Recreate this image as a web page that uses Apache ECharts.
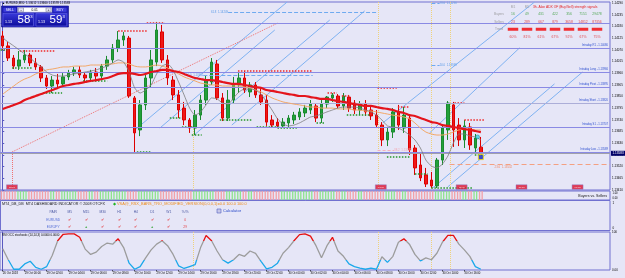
<!DOCTYPE html>
<html>
<head>
<meta charset="utf-8">
<script src="https://cdn.jsdelivr.net/npm/echarts/dist/echarts.min.js"></script>
<style>
html,body{margin:0;padding:0;background:#E6E6F7;overflow:hidden;}
#c{width:625px;height:278px;}
</style>
</head>
<body>
<div id="c"></div>
<script>
// ---------------- DATA ----------------
const symbolName = 'EURUSD,M30';
const barCount = 111;
const timeLabels = ['26 Oct 2018','29 Oct 00:00','29 Oct 02:00','29 Oct 04:00','29 Oct 06:00','29 Oct 08:00','29 Oct 10:00','29 Oct 12:00','29 Oct 14:00','29 Oct 16:00','29 Oct 18:00','29 Oct 20:00','29 Oct 22:00','30 Oct 00:00','30 Oct 02:00','30 Oct 04:00','30 Oct 06:00','30 Oct 08:00','30 Oct 10:00','30 Oct 12:00','30 Oct 14:00','30 Oct 16:00'];
// [open, close, low, high]
const candles = [
[1.14136,1.14089,1.14070,1.14159],[1.14089,1.14032,1.14018,1.14107],[1.14032,1.13994,1.13980,1.14046],[1.13994,1.14023,1.13976,1.14065],
[1.14023,1.14046,1.14009,1.14070],[1.14046,1.14009,1.13994,1.14056],[1.14009,1.13990,1.13976,1.14032],[1.13990,1.13938,1.13919,1.13999],
[1.13938,1.13900,1.13886,1.13952],[1.13900,1.13928,1.13867,1.13947],[1.13928,1.13910,1.13891,1.13957],[1.13910,1.13943,1.13895,1.13961],
[1.13943,1.13961,1.13928,1.13976],[1.13961,1.13976,1.13947,1.13990],[1.13976,1.13952,1.13938,1.13994],[1.13952,1.13938,1.13919,1.13966],
[1.13938,1.13966,1.13924,1.13976],[1.13966,1.13947,1.13924,1.13985],[1.13947,1.13994,1.13933,1.14004],[1.13994,1.14023,1.13976,1.14042],
[1.14023,1.14079,1.14009,1.14098],[1.14079,1.14117,1.14060,1.14159],[1.14117,1.14136,1.14089,1.14155],[1.14126,1.13853,1.13844,1.14136],
[1.13844,1.13679,1.13589,1.13853],[1.13693,1.13811,1.13664,1.13834],[1.13811,1.13938,1.13787,1.13966],[1.13938,1.14023,1.13891,1.14070],
[1.14013,1.14164,1.13994,1.14202],[1.14155,1.14023,1.14009,1.14188],[1.14023,1.13938,1.13905,1.14046],[1.13928,1.13858,1.13834,1.13947],
[1.13858,1.13787,1.13749,1.13881],[1.13796,1.13740,1.13716,1.13825],[1.13740,1.13702,1.13679,1.13749],[1.13702,1.13763,1.13669,1.13787],
[1.13763,1.13834,1.13740,1.13858],[1.13834,1.13928,1.13811,1.13952],[1.13919,1.14013,1.13905,1.14032],[1.14004,1.13844,1.13834,1.14023],
[1.13844,1.13749,1.13735,1.13867],[1.13749,1.13834,1.13735,1.13881],[1.13834,1.13905,1.13820,1.13943],[1.13905,1.13938,1.13867,1.13961],
[1.13938,1.13881,1.13867,1.13971],[1.13872,1.13905,1.13848,1.13919],[1.13905,1.13858,1.13844,1.13919],[1.13858,1.13825,1.13811,1.13891],
[1.13834,1.13730,1.13712,1.13858],[1.13740,1.13716,1.13702,1.13763],[1.13730,1.13712,1.13702,1.13749],[1.13712,1.13730,1.13702,1.13749],
[1.13726,1.13749,1.13707,1.13763],[1.13740,1.13763,1.13721,1.13778],[1.13754,1.13778,1.13740,1.13796],[1.13773,1.13796,1.13754,1.13811],
[1.13787,1.13815,1.13768,1.13834],[1.13806,1.13749,1.13730,1.13820],[1.13749,1.13815,1.13726,1.13834],[1.13815,1.13848,1.13796,1.13853],
[1.13844,1.13858,1.13825,1.13867],[1.13853,1.13806,1.13796,1.13862],[1.13806,1.13853,1.13787,1.13867],[1.13848,1.13796,1.13778,1.13858],
[1.13820,1.13787,1.13768,1.13834],[1.13787,1.13815,1.13763,1.13829],[1.13815,1.13778,1.13759,1.13834],[1.13787,1.13759,1.13740,1.13801],
[1.13763,1.13716,1.13702,1.13787],[1.13716,1.13646,1.13617,1.13730],[1.13646,1.13683,1.13617,1.13707],[1.13683,1.13778,1.13655,1.13796],
[1.13778,1.13716,1.13693,1.13811],[1.13702,1.13763,1.13679,1.13801],[1.13749,1.13599,1.13575,1.13763],[1.13608,1.13514,1.13481,1.13622],
[1.13528,1.13467,1.13452,1.13580],[1.13481,1.13438,1.13424,1.13514],[1.13457,1.13429,1.13419,1.13495],[1.13429,1.13551,1.13419,1.13561],
[1.13551,1.13702,1.13528,1.13716],[1.13693,1.13820,1.13646,1.13829],[1.13811,1.13693,1.13613,1.13825],[1.13716,1.13646,1.13617,1.13749],
[1.13646,1.13712,1.13608,1.13740],[1.13707,1.13622,1.13599,1.13726],[1.13608,1.13655,1.13584,1.13674],[1.13612,1.13583,1.13578,1.13660]
];
const maSlow = [1.13792,1.13801,1.13811,1.13820,1.13834,1.13844,1.13853,1.13862,1.13872,1.13881,
1.13891,1.13900,1.13905,1.13910,1.13914,1.13919,1.13924,1.13928,1.13933,1.13938,
1.13947,1.13957,1.13961,1.13961,1.13957,1.13952,1.13957,1.13966,1.13971,1.13976,
1.13976,1.13971,1.13966,1.13957,1.13947,1.13938,1.13933,1.13928,1.13928,1.13924,
1.13919,1.13914,1.13910,1.13910,1.13905,1.13900,1.13895,1.13891,1.13881,1.13877,
1.13872,1.13867,1.13862,1.13858,1.13853,1.13853,1.13848,1.13844,1.13839,1.13839,
1.13834,1.13829,1.13825,1.13820,1.13815,1.13811,1.13806,1.13806,1.13801,1.13796,
1.13792,1.13787,1.13778,1.13773,1.13763,1.13759,1.13749,1.13740,1.13730,1.13726,
1.13716,1.13712,1.13707,1.13702,1.13697,1.13693,1.13688,1.13683];
const maMid = [1.13862,1.13881,1.13900,1.13919,1.13933,1.13943,1.13957,1.13966,1.13976,1.13980,
1.13985,1.13990,1.13990,1.13994,1.13994,1.13994,1.13999,1.13999,1.13999,1.14004,
1.14004,1.14009,1.14009,1.14004,1.13994,1.13990,1.13990,1.13994,1.13999,1.13994,
1.13985,1.13971,1.13957,1.13943,1.13933,1.13924,1.13914,1.13910,1.13905,1.13905,
1.13900,1.13900,1.13900,1.13900,1.13895,1.13891,1.13881,1.13872,1.13858,1.13844,
1.13834,1.13825,1.13820,1.13815,1.13811,1.13806,1.13801,1.13801,1.13796,1.13796,
1.13796,1.13792,1.13792,1.13792,1.13787,1.13787,1.13782,1.13782,1.13778,1.13773,
1.13768,1.13763,1.13759,1.13754,1.13745,1.13726,1.13702,1.13683,1.13674,1.13669,
1.13669,1.13674,1.13683,1.13693,1.13697,1.13697,1.13693,1.13693];
const maFast = [1.14126,1.14107,1.14089,1.14070,1.14051,1.14032,1.14009,1.13990,1.13966,1.13952,
1.13947,1.13947,1.13952,1.13957,1.13961,1.13966,1.13971,1.13976,1.13985,1.13994,
1.14009,1.14023,1.14013,1.13966,1.13891,1.13867,1.13881,1.13905,1.13957,1.13994,
1.14004,1.13976,1.13919,1.13858,1.13796,1.13763,1.13778,1.13811,1.13844,1.13839,
1.13820,1.13815,1.13844,1.13872,1.13886,1.13886,1.13881,1.13862,1.13825,1.13787,
1.13745,1.13721,1.13712,1.13716,1.13726,1.13740,1.13754,1.13759,1.13768,1.13778,
1.13787,1.13796,1.13801,1.13801,1.13801,1.13796,1.13787,1.13778,1.13763,1.13740,
1.13712,1.13707,1.13702,1.13688,1.13669,1.13646,1.13608,1.13551,1.13523,1.13514,
1.13532,1.13570,1.13631,1.13674,1.13674,1.13664,1.13660,1.13646];
const stochK = [56,27,2,2,16,23,7,2,9,38, 77,94,95,95,86,55,41,47,62,71, 68,82,59,18,2,9,32,53,68,77,
64,41,11,4,9,14,59,91,77,50, 27,18,27,41,36,50,44,23,3,7, 18,44,59,77,93,95,89,64,32,64,
86,50,36,16,9,5,2,5,2,35, 20,36,73,82,68,41,24,32,27,44, 73,91,91,68,53,36,9,2];

const levelPrices = [1.14197, 1.14080, 1.13966, 1.13895, 1.13820, 1.13707, 1.13589];
const levelNames  = ['', 'Intraday R1', 'Intraday Long', 'Intraday Pivot', 'Intraday Short', 'Intraday S1', 'Intraday Low'];
// [barFrom, priceFrom, barTo, priceTo]
const pitchforkLines = [
[24.05,1.13693,51.75,1.14296],[28.59,1.13702,49.5,1.14164],[34.59,1.13664,59.5,1.14211],[41.68,1.13716,65.86,1.14254],
[69.14,1.13726,96.77,1.14296],[77.68,1.13679,94.05,1.14080],[78.23,1.13419,100.4,1.13910],[80.95,1.13424,105.5,1.13966]
];
const swingLines = [[1.68,1.13589,50.05,1.14197],[1.68,1.13589,1.68,1.13424]];
// [barFrom, barTo, price, text]
const fibBlue = [[41,68.2,1.14249,'61.8  1.14249'],[36.5,56.4,1.13952,'50.0  1.13952'],[78,79.5,1.14290,'78.6  1.14290'],[78,79.5,1.13999,'50.0  1.13999']];
const fibSalmon = [[81.3,110.5,1.13532,'23.6  1.13532']];
const fibPink = [[68.2,71.2,1.13599,'38.2  1.13599']];
// [barFrom, barTo, price]
const resistanceSegs = [[3.1,9.5,1.14065],[21,26.2,1.14159],[26.2,29.5,1.14197],[42.8,56.4,1.13971],[59.1,60.8,1.13867],[61.7,63.1,1.13853],[68.2,71.7,1.13891],[71.9,74,1.13801],[82.2,84,1.13820],[84,87.7,1.13740]];
const supportSegs = [[-0.4,0.8,1.14070],[1.7,5.5,1.13985],[7.3,10.8,1.13867],[14.6,19,1.13924],[24.4,27.1,1.13589],[30.4,32.6,1.13749],[32.6,34.6,1.13707],[34.4,36.2,1.13669],[39.5,45.5,1.13740],[46.2,50.4,1.13707],[50,53.5,1.13702],[57.1,58.6,1.13726],[62.6,66.8,1.13763],[69.9,74,1.13565],[75,77.3,1.13485],[78,85.5,1.13419],[85.9,87.3,1.13575]];
const sessionBars = [34.6, 68.4, 77.9, 81.5];
const sessionFrom = [1.13707, 1.14296, 1.14296, 1.14296];
const newsBars = [1.68, 68.8, 83.5, 94.4, 104.6];
const newsTimes = ['23:00','08:15','15:45','20:15','01:15'];
const newsLevel = 1.13424;
const signalDot = [86.4, 1.13660];
const lastBarMark = [87, 1.13565];
const spreadPoints = 10;

const dashCols = ['PAIR','M5','M15','M30','H1','H4','D1','W1','%/%'];
const dashPairs = ['EURUSD','EURJPY'];
const dashSignals = [[-1,-1,-1,-1,-1,-1,-1],[-1,1,-1,-1,-1,1,-1]];
const dashScore = [0, 29];

const bsRowNames = ['', 'Buyers', 'Sellers', 'Trend', ''];
const bsFrames = ['M1','M5'];
const bsBuyers = [16,49,431,422,356,7151,29478];
const bsSellers = [23,289,667,879,3658,14812,87356];
const bsStrength = [60,81,61,67,92,67,75];

// ---------------- CHART ----------------
const FONT = 'Liberation Sans';
const cats = Array.from({length: barCount}, (_, i) => String(i));
const yMin = 1.13410, yMax = 1.14296;
const last = candles[candles.length - 1];
const bid = last[1];
const ask = +(bid + spreadPoints * 1e-5).toFixed(5);
const BORDER = '#7070D0';
const BULL = '#22A03A', BEAR = '#F01818';

const levelLineData = levelPrices.map((p, i) => ({
  yAxis: p,
  lineStyle: {color: i === 4 ? '#ACAED8' : '#8A8AE4', width: 1, type: 'solid'},
  label: {show: !!levelNames[i], formatter: levelNames[i] + ' - ' + p.toFixed(5), position: 'insideEndTop',
          fontSize: 2.7, color: '#2D4FD0', distance: [2, 1.5], fontFamily: FONT}
}));
levelLineData.push({
  yAxis: bid,
  lineStyle: {color: '#A0A0AA', width: 1, type: 'solid'},
  label: {show: true, position: 'end', formatter: bid.toFixed(5), color: '#fff', backgroundColor: '#00006A',
          padding: [1, 1.5], fontSize: 3.1, distance: 1, fontFamily: FONT}
});

const labelInterval = (i) => i % 4 === 0 && i / 4 < timeLabels.length;

const dashItems = [];
dashCols.forEach((c, ci) => dashItems.push({value: [ci, 0], label: {formatter: c, color: '#24348E', fontSize: 3.3}}));
dashPairs.forEach((p, ri) => {
  dashItems.push({value: [0, ri + 1], label: {formatter: p, color: '#3050D0', fontSize: 3.3}});
  dashSignals[ri].forEach((s, ci) => dashItems.push({value: [ci + 1, ri + 1],
    label: s > 0 ? {formatter: '▲', color: '#2AA02A', fontSize: 3.4} : {formatter: '✔', color: '#E41414', fontSize: 4.2}}));
  dashItems.push({value: [8, ri + 1], label: {formatter: String(dashScore[ri]), color: '#E41414', fontSize: 3.4}});
});

const bsItems = [];
bsRowNames.forEach((n, ri) => { if (n) bsItems.push({value: [0, ri], label: {formatter: n, color: '#8C8C8C', fontSize: 3.2}}); });
bsFrames.forEach((f, ci) => bsItems.push({value: [ci + 1, 0], label: {formatter: f, color: '#8C8C8C', fontSize: 3.2}}));
bsBuyers.forEach((v, ci) => bsItems.push({value: [ci + 1, 1], label: {formatter: String(v), color: '#2E9A2E', fontSize: 3.4}}));
bsSellers.forEach((v, ci) => bsItems.push({value: [ci + 1, 2], label: {formatter: String(v), color: '#E42020', fontSize: 3.4}}));
bsStrength.forEach((v, ci) => {
  bsItems.push({value: [ci + 1, 3], symbol: 'rect', symbolSize: [10.5, 3], itemStyle: {color: '#F40000'}, label: {show: false}});
  bsItems.push({value: [ci + 1, 4], label: {formatter: v + '%', color: '#E42020', fontSize: 3.4}});
});

const series = [
  {type: 'candlestick', xAxisIndex: 0, yAxisIndex: 0, data: candles, barWidth: 3,
   itemStyle: {color: BULL, color0: BEAR, borderColor: '#1A8A2E', borderColor0: '#DC0000', borderWidth: 1},
   markLine: {silent: true, symbol: ['none', 'none'], animation: false, precision: 5, data: levelLineData}},
  {type: 'lines', coordinateSystem: 'cartesian2d', xAxisIndex: 1, yAxisIndex: 0, silent: true, z: 1,
   lineStyle: {color: '#7FB2F2', width: 1, opacity: 1, curveness: 0},
   data: pitchforkLines.map(l => ({coords: [[l[0], l[1]], [l[2], l[3]]]}))},
  {type: 'lines', coordinateSystem: 'cartesian2d', xAxisIndex: 1, yAxisIndex: 0, silent: true, z: 1,
   lineStyle: {color: '#F07070', width: 1, opacity: 1, type: 'dotted'},
   data: swingLines.map(l => ({coords: [[l[0], l[1]], [l[2], l[3]]]}))},
  {type: 'lines', coordinateSystem: 'cartesian2d', xAxisIndex: 1, yAxisIndex: 0, silent: true, z: 1,
   lineStyle: {color: '#EFD27A', width: 1, opacity: 1, type: 'dotted'},
   data: sessionBars.map((b, i) => ({coords: [[b, sessionFrom[i]], [b, yMin]]}))},
  {type: 'lines', coordinateSystem: 'cartesian2d', xAxisIndex: 1, yAxisIndex: 0, silent: true, z: 3,
   lineStyle: {color: '#6FAAF0', width: 1, opacity: 1, type: 'dashed'},
   label: {show: true, fontSize: 2.8, color: '#5B9BE8', fontFamily: FONT},
   data: fibBlue.map((f, i) => ({coords: [[f[0], f[2]], [f[1], f[2]]], label: {formatter: f[3], position: i < 2 ? 'start' : 'end'}}))},
  {type: 'lines', coordinateSystem: 'cartesian2d', xAxisIndex: 1, yAxisIndex: 0, silent: true, z: 3,
   lineStyle: {color: '#F4A082', width: 1, opacity: 1, type: [5, 3]},
   label: {show: true, fontSize: 2.9, color: '#F08A6A', fontFamily: FONT, position: 'insideStartBottom', distance: [45, 2]},
   data: fibSalmon.map(f => ({coords: [[f[0], f[2]], [f[1], f[2]]], label: {formatter: f[3]}}))},
  {type: 'lines', coordinateSystem: 'cartesian2d', xAxisIndex: 1, yAxisIndex: 0, silent: true, z: 3,
   lineStyle: {color: '#F4B0BC', width: 1, opacity: 1, type: [3, 2]},
   label: {show: true, fontSize: 2.9, color: '#F2A8B4', fontFamily: FONT, position: 'end'},
   data: fibPink.map(f => ({coords: [[f[0], f[2]], [f[1], f[2]]], label: {formatter: f[3]}}))},
  {type: 'lines', coordinateSystem: 'cartesian2d', xAxisIndex: 1, yAxisIndex: 0, silent: true, z: 4,
   lineStyle: {color: '#F02828', width: 1.5, opacity: 1, type: 'dotted'},
   data: resistanceSegs.map(s => ({coords: [[s[0], s[2]], [s[1], s[2]]]}))},
  {type: 'lines', coordinateSystem: 'cartesian2d', xAxisIndex: 1, yAxisIndex: 0, silent: true, z: 4,
   lineStyle: {color: '#25982A', width: 1.5, opacity: 1, type: 'dotted'},
   data: supportSegs.map(s => ({coords: [[s[0], s[2]], [s[1], s[2]]]}))},
  {type: 'line', xAxisIndex: 0, yAxisIndex: 0, data: maMid, showSymbol: false, smooth: 0.3, silent: true, z: 5,
   lineStyle: {color: '#F3A868', width: 1}},
  {type: 'line', xAxisIndex: 0, yAxisIndex: 0, data: maFast, showSymbol: false, smooth: 0.2, silent: true, z: 5,
   lineStyle: {color: '#7C7C7C', width: 0.8}},
  {type: 'line', xAxisIndex: 0, yAxisIndex: 0, data: maSlow, showSymbol: false, smooth: 0.3, silent: true, z: 6,
   lineStyle: {color: '#E4141C', width: 2.2}},
  {type: 'scatter', xAxisIndex: 1, yAxisIndex: 0, silent: true, z: 7,
   data: [
     {value: signalDot, symbol: 'circle', symbolSize: 4, itemStyle: {color: '#38D6E6', borderColor: '#10607A', borderWidth: 0.5}},
     {value: lastBarMark, symbol: 'rect', symbolSize: 5, itemStyle: {color: '#1424C4', borderColor: '#F4E400', borderWidth: 1}}
   ]},
  {type: 'scatter', xAxisIndex: 1, yAxisIndex: 0, silent: true, z: 7, symbol: 'rect', symbolSize: [11, 4.5],
   itemStyle: {color: '#E0102C', borderColor: '#8080D0', borderWidth: 0.5},
   label: {show: true, position: 'inside', fontSize: 2.4, color: '#fff', fontFamily: FONT, formatter: p => newsTimes[p.dataIndex]},
   data: newsBars.map(b => [b, newsLevel])},
  {type: 'bar', xAxisIndex: 2, yAxisIndex: 1, silent: true, barWidth: 1.3, barGap: '100%',
   data: candles.map(c => ({value: 1, itemStyle: {color: c[1] >= c[0] ? '#8EE48E' : '#F2A0A8'}}))},
  {type: 'bar', xAxisIndex: 2, yAxisIndex: 1, silent: true, barWidth: 1.3, barGap: '100%',
   data: candles.map(c => ({value: 1, itemStyle: {color: c[1] >= c[0] ? '#8EE48E' : '#F2A0A8'}}))},
  {type: 'scatter', xAxisIndex: 3, yAxisIndex: 2, silent: true, symbolSize: 1, itemStyle: {color: 'rgba(0,0,0,0)'},
   label: {show: true, position: 'inside', fontFamily: FONT}, data: dashItems},
  {type: 'line', xAxisIndex: 4, yAxisIndex: 3, data: stochK, showSymbol: false, silent: true, lineStyle: {width: 1.3}},
  {type: 'lines', coordinateSystem: 'cartesian2d', xAxisIndex: 5, yAxisIndex: 3, silent: true,
   lineStyle: {color: '#EFD27A', width: 1, opacity: 1, type: 'dotted'},
   data: sessionBars.map(b => ({coords: [[b, 100], [b, 0]]}))},
  {type: 'scatter', xAxisIndex: 6, yAxisIndex: 4, silent: true, symbolSize: 1, itemStyle: {color: 'rgba(0,0,0,0)'},
   label: {show: true, position: 'inside', fontFamily: FONT}, data: bsItems}
];
const stochIndex = series.findIndex(s => s.data === stochK);

const txt = (x, y, text, o = {}) => ({type: 'text', x, y, silent: true, z: o.z || 50,
  style: {text, fill: o.fill || '#000', fontSize: o.size || 3.2, fontFamily: FONT, fontWeight: o.weight || 'normal',
          align: o.align || 'left', verticalAlign: o.va || 'middle'}});
const rect = (x, y, w, h, fill, stroke, z) => ({type: 'rect', silent: true, z: z || 50, shape: {x, y, width: w, height: h},
  style: {fill, stroke: stroke || null, lineWidth: 0.6}});
const priceParts = (p) => { const s = p.toFixed(5); return [s.slice(0, 4), s.slice(4, 6), s.slice(6)]; };
const bp = priceParts(bid), ap = priceParts(ask);
const boxGrad = new echarts.graphic.LinearGradient(0, 0, 0, 1, [{offset: 0, color: '#3A3ADC'}, {offset: 1, color: '#0C0C9A'}]);

const graphic = [
  txt(2, 3, '▲ ' + symbolName + '  ' + [last[0], last[3], last[2], last[1]].map(v => v.toFixed(5)).join(' '), {size: 2.9}),
  rect(1.5, 6, 67, 21, '#2222BE', '#0A0A80', 60),
  rect(3, 7.3, 13.5, 5, '#3C3CDC', '#1010A0', 61), txt(9.75, 9.9, 'SELL', {fill: '#fff', size: 3.3, align: 'center', z: 62}),
  rect(17.5, 7.3, 34.5, 5, '#FFFFFF', '#8080C0', 61),
  rect(18.5, 7.8, 5, 4, '#E4E4F2', '#8080A0', 62), txt(21, 9.8, '-', {size: 3.5, align: 'center', z: 63}),
  rect(46, 7.8, 5, 4, '#E4E4F2', '#8080A0', 62), txt(48.5, 9.8, '+', {size: 3.5, align: 'center', z: 63}),
  txt(34.7, 9.9, '0.01', {size: 3.2, align: 'center', z: 62}),
  rect(53, 7.3, 14, 5, '#3C3CDC', '#1010A0', 61), txt(60, 9.9, 'BUY', {fill: '#fff', size: 3.3, align: 'center', z: 62}),
  rect(3, 13.3, 30.5, 12.7, boxGrad, '#6464E4', 61),
  rect(36, 13.3, 30.8, 12.7, boxGrad, '#6464E4', 61),
  txt(5, 22.2, bp[0], {fill: '#fff', size: 3.6, z: 62}), txt(17.5, 20.2, bp[1], {fill: '#fff', size: 11.5, z: 62}), txt(30.3, 16.6, bp[2], {fill: '#fff', size: 4.2, z: 62}),
  txt(38, 22.2, ap[0], {fill: '#fff', size: 3.6, z: 62}), txt(49.5, 20.2, ap[1], {fill: '#fff', size: 11.5, z: 62}), txt(62.5, 16.6, ap[2], {fill: '#fff', size: 4.2, z: 62}),
  txt(533, 6.8, '3h. Alan ADX OF (Buy/Sell) strength signals', {fill: '#E42020', size: 3.3}),
  txt(607, 196, 'Buyers vs. Sellers', {size: 3.6, align: 'right', fill: '#141414'}),
  txt(612.5, 193.5, '1.00', {size: 2.6}), txt(612.5, 198.5, '0.00', {size: 2.6}),
  {type: 'rect', silent: true, z: 1, shape: {x: 0.5, y: 200.5, width: 609.5, height: 30}, style: {fill: null, stroke: BORDER, lineWidth: 1}},
  txt(2, 204.3, 'MT4_DB_DB  MT4 DASHBOARD INDICATOR © 2008 OTCFX', {size: 3.7, fill: '#1C1C1C'}),
  txt(112.5, 204.3, '◆', {size: 3.8, fill: '#22B422'}),
  txt(117, 204.3, 'VSA@_RSX_BARS_TRO_MODIFIED_VERSION(0,0,0,1)=0.0 100.0 100.0', {size: 3.9, fill: '#EE8C1C'}),
  rect(217, 209, 4, 4, '#C8C8E8', '#5060C0'),
  txt(223, 211.2, 'Calculator', {size: 4, fill: '#2848C8'}),
  txt(612.5, 203.5, '1', {size: 3}), txt(612.5, 228, '0', {size: 3}),
  txt(2, 235.6, 'RSI OCC stochastic (14,14,3) 0.0000 0.0000', {size: 2.9})
];

const chart = echarts.init(document.getElementById('c'), null, {renderer: 'canvas'});
chart.setOption({
  animation: false,
  backgroundColor: '#E6E6F7',
  textStyle: {fontFamily: FONT},
  grid: [
    {left: 0, right: 15, top: 2, height: 188, show: true, borderColor: BORDER, borderWidth: 1, outerBoundsMode: 'none'},
    {left: 0, right: 15, top: 191, height: 9, show: true, borderColor: BORDER, borderWidth: 1, outerBoundsMode: 'none'},
    {left: 45, width: 148.5, top: 208.5, height: 22.5, outerBoundsMode: 'none'},
    {left: 0, right: 15, top: 232, height: 38, show: true, borderColor: BORDER, borderWidth: 1, outerBoundsMode: 'none'},
    {left: 492, width: 112, top: 3, height: 37.5, outerBoundsMode: 'none'}
  ],
  xAxis: [
    {type: 'category', gridIndex: 0, data: cats, show: false},
    {type: 'value', gridIndex: 0, min: -0.5, max: barCount - 0.5, show: false},
    {type: 'category', gridIndex: 1, data: cats, show: false},
    {type: 'category', gridIndex: 2, data: dashCols, show: false},
    {type: 'category', gridIndex: 3, data: cats, axisLine: {show: false},
     axisTick: {show: true, interval: labelInterval, alignWithLabel: true, length: 1.5, lineStyle: {color: '#000', width: 0.6}},
     axisLabel: {interval: labelInterval, formatter: (v, i) => timeLabels[i / 4] || '', fontSize: 2.8, color: '#000',
                 align: 'left', margin: 1.5, fontFamily: FONT, hideOverlap: false},
     splitLine: {show: false}},
    {type: 'value', gridIndex: 3, min: -0.5, max: barCount - 0.5, show: false},
    {type: 'category', gridIndex: 4, data: ['', ...['M1','M5','M15','M30','H1','H4','D1']], show: false}
  ],
  yAxis: [
    {type: 'value', gridIndex: 0, position: 'right', min: yMin, max: yMax, interval: 0.00055,
     axisLine: {show: true, lineStyle: {color: '#5A5AC0'}}, axisTick: {show: true, length: 1.5, lineStyle: {color: '#5A5AC0'}},
     axisLabel: {fontSize: 3, color: '#000', margin: 2, formatter: v => v.toFixed(5), showMaxLabel: false, fontFamily: FONT},
     splitLine: {show: false}},
    {type: 'value', gridIndex: 1, min: 0, max: 1, show: false},
    {type: 'category', gridIndex: 2, data: ['h', ...dashPairs], inverse: true, show: false},
    {type: 'value', gridIndex: 3, position: 'right', min: 0, max: 100, interval: 100,
     axisLine: {show: true, lineStyle: {color: '#5A5AC0'}}, axisTick: {show: false},
     axisLabel: {fontSize: 3, color: '#000', margin: 2, formatter: v => v === 100 ? '100' : '0.00', fontFamily: FONT},
     splitLine: {show: false}},
    {type: 'category', gridIndex: 4, data: ['0','1','2','3','4'], inverse: true, show: false}
  ],
  visualMap: [{type: 'piecewise', show: false, seriesIndex: stochIndex, dimension: 1,
    pieces: [{lt: 25, color: '#1AA8EA'}, {gte: 25, lte: 75, color: '#9C9C9C'}, {gt: 75, color: '#E61010'}]}],
  series,
  graphic
});
</script>
</body>
</html>
